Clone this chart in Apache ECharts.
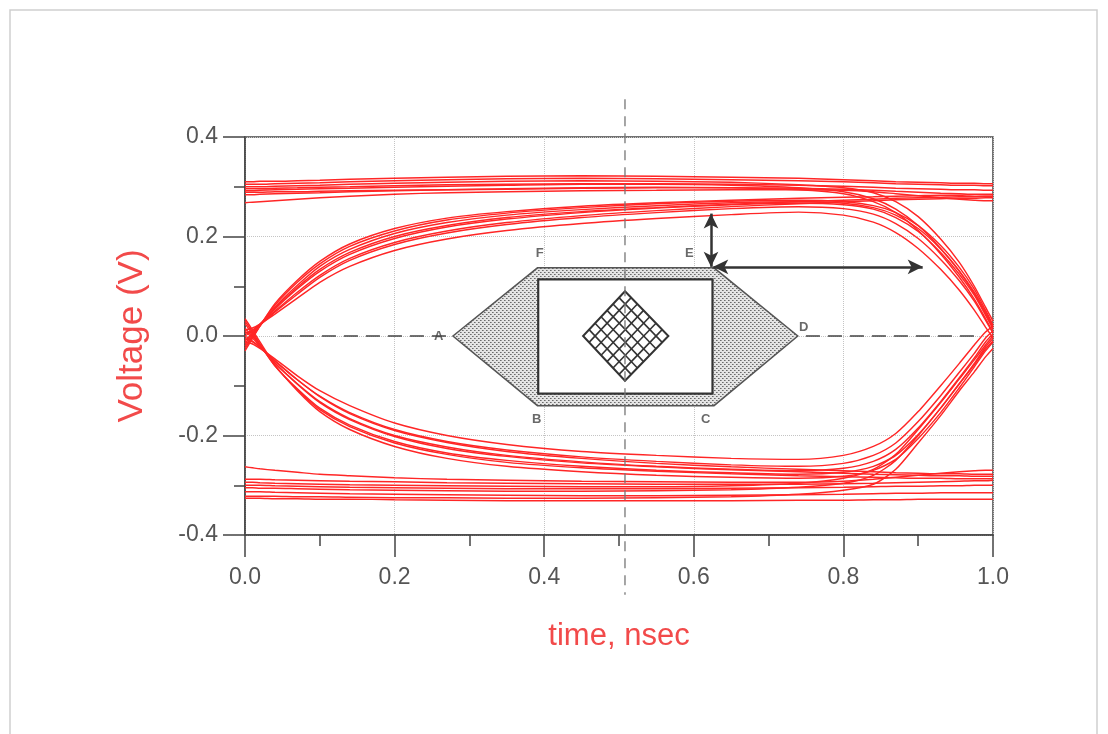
<!DOCTYPE html>
<html>
<head>
<meta charset="utf-8">
<script src="https://cdn.jsdelivr.net/npm/echarts@6/dist/echarts.min.js"></script>
<style>html,body{margin:0;padding:0;background:#fff;}#chart{width:1108px;height:734px;}</style>
</head>
<body>
<div id="chart"></div>
<script>
// ---- time samples (ns) shared by all traces ----
const T = [0, 0.01, 0.02, 0.04, 0.07, 0.1, 0.14, 0.2, 0.27, 0.35, 0.45, 0.55, 0.65, 0.74, 0.8, 0.84, 0.87, 0.9, 0.93, 0.955, 0.975, 0.99, 1.0];

// ---- top rail, staying high ----
const HH1 = [0.305,0.305,0.305,0.306,0.307,0.308,0.31,0.312,0.314,0.316,0.317,0.316,0.314,0.312,0.31,0.308,0.306,0.305,0.304,0.303,0.303,0.302,0.302];
const HH2 = [0.296,0.296,0.296,0.297,0.298,0.299,0.3,0.302,0.304,0.305,0.306,0.306,0.305,0.303,0.301,0.299,0.297,0.296,0.295,0.294,0.294,0.293,0.293];
const HH3 = [0.289,0.289,0.289,0.29,0.29,0.291,0.292,0.293,0.294,0.295,0.297,0.298,0.298,0.297,0.295,0.293,0.291,0.289,0.287,0.286,0.285,0.285,0.285];
const HH4 = [0.268,0.269,0.27,0.272,0.275,0.278,0.281,0.285,0.288,0.29,0.292,0.293,0.294,0.294,0.293,0.29,0.286,0.282,0.278,0.275,0.273,0.272,0.272];
const HH5 = [0.31,0.31,0.311,0.311,0.312,0.313,0.315,0.317,0.319,0.321,0.322,0.321,0.319,0.317,0.314,0.312,0.31,0.309,0.308,0.307,0.307,0.306,0.306];
// ---- top rail, falling at the right ----
const HF1 = [0.3,0.3,0.3,0.301,0.302,0.303,0.305,0.307,0.309,0.311,0.312,0.311,0.309,0.304,0.298,0.288,0.27,0.24,0.195,0.148,0.1,0.058,0.03];
const HF2 = [0.292,0.292,0.293,0.294,0.295,0.296,0.297,0.299,0.301,0.303,0.305,0.305,0.303,0.298,0.29,0.276,0.255,0.222,0.176,0.13,0.085,0.045,0.018];
const HF3 = [0.284,0.284,0.285,0.286,0.287,0.288,0.29,0.292,0.294,0.296,0.298,0.299,0.298,0.294,0.286,0.27,0.248,0.212,0.165,0.118,0.074,0.035,0.008];
// ---- rising at left, staying high ----
const RS1 = [-0.03,-0.005,0.02,0.065,0.112,0.15,0.185,0.216,0.237,0.25,0.261,0.268,0.273,0.277,0.279,0.28,0.281,0.282,0.283,0.283,0.284,0.284,0.284];
const RS2 = [-0.015,0.003,0.022,0.056,0.098,0.134,0.168,0.2,0.222,0.238,0.25,0.258,0.265,0.27,0.273,0.275,0.277,0.278,0.279,0.28,0.28,0.281,0.281];
const RS3 = [0.005,0.012,0.024,0.05,0.088,0.122,0.156,0.188,0.211,0.228,0.242,0.252,0.26,0.266,0.27,0.272,0.274,0.275,0.276,0.277,0.277,0.278,0.278];
// ---- rising at left, falling at right ----
const RF1 = [-0.025,-0.002,0.021,0.062,0.108,0.145,0.18,0.211,0.233,0.247,0.258,0.266,0.271,0.273,0.27,0.262,0.248,0.222,0.182,0.138,0.094,0.052,0.022];
const RF2 = [-0.01,0.006,0.023,0.054,0.095,0.13,0.164,0.196,0.219,0.235,0.248,0.257,0.264,0.267,0.264,0.255,0.238,0.21,0.168,0.124,0.082,0.042,0.014];
const RF3 = [0.0,0.01,0.022,0.048,0.084,0.118,0.152,0.184,0.207,0.224,0.238,0.248,0.256,0.26,0.256,0.245,0.226,0.196,0.154,0.111,0.07,0.032,0.006];
const RF4 = [0.012,0.016,0.024,0.044,0.076,0.108,0.14,0.172,0.195,0.212,0.226,0.236,0.244,0.249,0.243,0.229,0.208,0.176,0.134,0.092,0.052,0.018,-0.004];
const RF5 = [-0.02,0.0,0.02,0.058,0.102,0.14,0.174,0.206,0.228,0.243,0.254,0.262,0.268,0.27,0.267,0.258,0.243,0.216,0.175,0.131,0.088,0.048,0.018];
// ---- bottom rail, staying low ----
const LL1 = [-0.3,-0.3,-0.3,-0.301,-0.302,-0.303,-0.304,-0.305,-0.306,-0.307,-0.307,-0.307,-0.306,-0.305,-0.304,-0.303,-0.302,-0.302,-0.301,-0.301,-0.3,-0.3,-0.3];
const LL2 = [-0.313,-0.313,-0.313,-0.314,-0.315,-0.316,-0.317,-0.318,-0.319,-0.32,-0.321,-0.321,-0.32,-0.319,-0.318,-0.317,-0.316,-0.316,-0.315,-0.315,-0.315,-0.315,-0.315];
const LL3 = [-0.326,-0.326,-0.326,-0.327,-0.327,-0.328,-0.328,-0.329,-0.33,-0.331,-0.331,-0.331,-0.331,-0.33,-0.33,-0.329,-0.329,-0.328,-0.328,-0.328,-0.328,-0.328,-0.328];
const LL4 = [-0.263,-0.265,-0.267,-0.27,-0.274,-0.278,-0.281,-0.285,-0.288,-0.29,-0.292,-0.293,-0.294,-0.294,-0.292,-0.288,-0.284,-0.28,-0.276,-0.273,-0.271,-0.27,-0.27];
const LL5 = [-0.288,-0.288,-0.288,-0.289,-0.29,-0.291,-0.292,-0.293,-0.295,-0.296,-0.297,-0.298,-0.298,-0.298,-0.297,-0.296,-0.295,-0.294,-0.293,-0.292,-0.291,-0.291,-0.29];
// ---- bottom rail, rising at the right ----
const LR1 = [-0.322,-0.322,-0.322,-0.322,-0.323,-0.323,-0.324,-0.325,-0.325,-0.326,-0.326,-0.325,-0.323,-0.318,-0.31,-0.298,-0.268,-0.215,-0.16,-0.11,-0.072,-0.042,-0.025];
const LR2 = [-0.305,-0.305,-0.306,-0.306,-0.307,-0.308,-0.309,-0.31,-0.311,-0.312,-0.312,-0.311,-0.309,-0.304,-0.296,-0.28,-0.25,-0.2,-0.145,-0.096,-0.058,-0.026,-0.01];
const LR3 = [-0.294,-0.294,-0.295,-0.296,-0.297,-0.298,-0.299,-0.3,-0.301,-0.302,-0.303,-0.303,-0.301,-0.296,-0.286,-0.268,-0.238,-0.188,-0.134,-0.086,-0.048,-0.018,0.0];
// ---- falling at left, staying low ----
const FS1 = [0.03,0.008,-0.016,-0.06,-0.108,-0.148,-0.182,-0.215,-0.238,-0.254,-0.265,-0.272,-0.277,-0.281,-0.283,-0.284,-0.285,-0.286,-0.286,-0.287,-0.287,-0.287,-0.287];
const FS2 = [0.015,0.0,-0.018,-0.054,-0.097,-0.134,-0.168,-0.202,-0.226,-0.242,-0.255,-0.263,-0.269,-0.273,-0.276,-0.278,-0.279,-0.28,-0.281,-0.281,-0.282,-0.282,-0.282];
const FS3 = [0.0,-0.01,-0.022,-0.05,-0.088,-0.122,-0.156,-0.19,-0.214,-0.232,-0.246,-0.256,-0.263,-0.268,-0.271,-0.273,-0.275,-0.276,-0.277,-0.277,-0.278,-0.278,-0.278];
// ---- falling at left, rising at right ----
const FR0 = [-0.012,-0.016,-0.025,-0.046,-0.08,-0.11,-0.14,-0.175,-0.2,-0.218,-0.232,-0.24,-0.246,-0.248,-0.24,-0.222,-0.196,-0.152,-0.1,-0.055,-0.018,0.008,0.02];
const FR1 = [0.025,0.004,-0.018,-0.06,-0.106,-0.145,-0.179,-0.212,-0.235,-0.25,-0.262,-0.27,-0.275,-0.278,-0.274,-0.262,-0.24,-0.198,-0.145,-0.096,-0.055,-0.022,-0.005];
const FR2 = [0.01,-0.004,-0.02,-0.055,-0.096,-0.132,-0.166,-0.2,-0.223,-0.24,-0.253,-0.262,-0.268,-0.271,-0.266,-0.252,-0.228,-0.185,-0.132,-0.084,-0.044,-0.012,0.004];
const FR3 = [-0.005,-0.012,-0.023,-0.05,-0.088,-0.121,-0.154,-0.188,-0.212,-0.229,-0.243,-0.252,-0.259,-0.262,-0.256,-0.24,-0.215,-0.172,-0.12,-0.073,-0.035,-0.004,0.01];
const FR4 = [0.035,0.012,-0.012,-0.058,-0.11,-0.152,-0.188,-0.222,-0.246,-0.262,-0.273,-0.28,-0.284,-0.286,-0.282,-0.27,-0.248,-0.206,-0.154,-0.104,-0.062,-0.03,-0.012];

const TRACES = [HH1,HH2,HH3,HH4,HH5,HF1,HF2,HF3,RS1,RS2,RS3,RF1,RF2,RF3,RF4,RF5,
                LL1,LL2,LL3,LL4,LL5,LR1,LR2,LR3,FS1,FS2,FS3,FR0,FR1,FR2,FR3,FR4];

// ---- axis ticks ----
const X_TICKS = [0.0, 0.2, 0.4, 0.6, 0.8, 1.0];
const Y_TICKS = [-0.4, -0.2, 0.0, 0.2, 0.4];

// ---- eye mask geometry (data units) ----
const MASK_HEX = [[0.278,0],[0.391,0.137],[0.627,0.137],[0.739,0],[0.627,-0.14],[0.391,-0.14]];
const MASK_RECT = [[0.392,0.114],[0.625,-0.116]];
const MASK_DIAMOND = [[0.508,0.09],[0.566,0],[0.508,-0.09],[0.452,0]];
const MASK_LABELS = [[0.394,0.166,'F'],[0.594,0.166,'E'],[0.259,0.0,'A'],[0.747,0.018,'D'],[0.39,-0.167,'B'],[0.616,-0.168,'C']];
const ZERO_LINE = [[0.044,0],[0.985,0]];
const CENTER_LINE = [[0.508,0.476],[0.508,-0.52]];
const ARROW_V = [[0.623,0.139],[0.623,0.246]];
const ARROW_H = [[0.626,0.139],[0.906,0.139]];

const RED = '#ff2626';
const FONT = 'Liberation Sans, Arial, sans-serif';

// dotted fill pattern for the mask
const pat = document.createElement('canvas');
pat.width = 4; pat.height = 4;
(function(){
  const c = pat.getContext('2d');
  c.fillStyle = '#e4e4e4'; c.fillRect(0,0,4,4);
  c.fillStyle = '#6a6a6a';
  c.fillRect(0,0,1,1); c.fillRect(2,2,1,1);
  c.fillStyle = '#9a9a9a';
  c.fillRect(1,0,1,1); c.fillRect(3,2,1,1);
})();

const chart = echarts.init(document.getElementById('chart'), null, {renderer: 'canvas'});

const series = [];
series.push({
  type: 'line', data: ZERO_LINE, symbol: 'none', silent: true, z: 1,
  lineStyle: {color: '#444', width: 1.6, type: [14, 8]}
});
TRACES.forEach(function(tr){
  series.push({
    type: 'line', symbol: 'none', silent: true, smooth: 0.25, z: 2,
    data: T.map(function(t, i){ return [t, tr[i]]; }),
    lineStyle: {color: RED, width: 1.45}
  });
});
series.push({
  type: 'custom', silent: true, z: 3, data: [[0, 0]],
  renderItem: function(params, api){
    const hex = MASK_HEX.map(function(p){ return api.coord(p); });
    const r0 = api.coord(MASK_RECT[0]), r1 = api.coord(MASK_RECT[1]);
    const d = MASK_DIAMOND.map(function(p){ return api.coord(p); });
    const children = [
      {type: 'polygon', shape: {points: hex}, style: {fill: {image: pat, repeat: 'repeat'}, stroke: '#555', lineWidth: 1.5}},
      {type: 'rect', shape: {x: r0[0], y: r0[1], width: r1[0]-r0[0], height: r1[1]-r0[1]}, style: {fill: '#fff', stroke: '#333', lineWidth: 2.2}},
      {type: 'polygon', shape: {points: d}, style: {fill: '#fff', stroke: '#333', lineWidth: 2}}
    ];
    const top = d[0], right = d[1], bot = d[2], left = d[3];
    const n = 7;
    function lerp(a, b, f){ return [a[0]+(b[0]-a[0])*f, a[1]+(b[1]-a[1])*f]; }
    for (let k = 1; k < n; k++) {
      const f = k / n;
      const a1 = lerp(left, bot, f), b1 = lerp(top, right, f);
      const a2 = lerp(left, top, f), b2 = lerp(bot, right, f);
      children.push({type: 'line', shape: {x1: a1[0], y1: a1[1], x2: b1[0], y2: b1[1]}, style: {stroke: '#333', lineWidth: 1.6}});
      children.push({type: 'line', shape: {x1: a2[0], y1: a2[1], x2: b2[0], y2: b2[1]}, style: {stroke: '#333', lineWidth: 1.6}});
    }
    return {type: 'group', children: children};
  }
});
series.push({
  type: 'line', data: CENTER_LINE, symbol: 'none', silent: true, clip: false, z: 4,
  lineStyle: {color: '#777', width: 1.3, type: [10, 7]}
});
series.push({
  type: 'line', data: [], symbol: 'none', silent: true, z: 5,
  markLine: {
    silent: true, symbol: ['arrow', 'arrow'], symbolSize: [11, 15], animation: false,
    label: {show: false},
    lineStyle: {color: '#333', width: 2.5, type: 'solid'},
    data: [
      [{coord: ARROW_V[0]}, {coord: ARROW_V[1]}],
      [{coord: ARROW_H[0]}, {coord: ARROW_H[1]}]
    ]
  }
});
series.push({
  type: 'scatter', data: MASK_LABELS, symbolSize: 0, silent: true, z: 6,
  label: {show: true, position: 'inside', formatter: function(p){ return p.data[2]; },
          color: '#444', fontSize: 13, fontWeight: 'bold', fontFamily: FONT}
});

const option = {
  animation: false,
  backgroundColor: '#fff',
  graphic: [{type: 'rect', shape: {x: 10, y: 10, width: 1087, height: 760}, style: {fill: 'none', stroke: '#cfcfcf', lineWidth: 1.5}, silent: true}],
  grid: {left: 245, top: 137, width: 748, height: 398, show: true, borderColor: '#444', borderWidth: 1.5, backgroundColor: 'transparent'},
  xAxis: {
    type: 'value', min: X_TICKS[0], max: X_TICKS[X_TICKS.length-1], interval: 0.2,
    name: 'time, nsec', nameLocation: 'middle', nameGap: 86,
    nameTextStyle: {color: '#f24a4a', fontSize: 31, fontFamily: FONT},
    axisLine: {show: true, onZero: false, lineStyle: {color: '#444', width: 1.5}},
    axisTick: {show: true, length: 22, lineStyle: {color: '#444', width: 1.5}},
    minorTick: {show: true, splitNumber: 2, length: 11, lineStyle: {color: '#444', width: 1.5}},
    axisLabel: {margin: 31, color: '#555', fontSize: 23, fontFamily: FONT, formatter: function(v){ return v.toFixed(1); }},
    splitLine: {show: true, lineStyle: {color: '#c4c4c4', type: 'dotted', width: 1}}
  },
  yAxis: {
    type: 'value', min: Y_TICKS[0], max: Y_TICKS[Y_TICKS.length-1], interval: 0.2,
    name: 'Voltage (V)', nameLocation: 'middle', nameGap: 95,
    nameTextStyle: {color: '#f24a4a', fontSize: 35, fontFamily: FONT},
    axisLine: {show: true, onZero: false, lineStyle: {color: '#444', width: 1.5}},
    axisTick: {show: true, length: 22, lineStyle: {color: '#444', width: 1.5}},
    minorTick: {show: true, splitNumber: 2, length: 11, lineStyle: {color: '#444', width: 1.5}},
    axisLabel: {margin: 27, color: '#555', fontSize: 23, fontFamily: FONT, formatter: function(v){ return v.toFixed(1); }},
    splitLine: {show: true, lineStyle: {color: '#c4c4c4', type: 'dotted', width: 1}}
  },
  series: series
};
chart.setOption(option);
</script>
</body>
</html>
